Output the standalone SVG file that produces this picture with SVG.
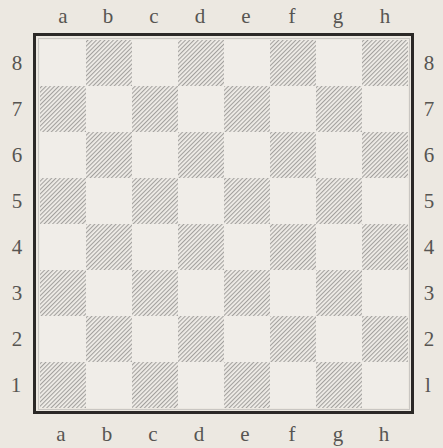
<svg xmlns="http://www.w3.org/2000/svg" width="443" height="448" viewBox="0 0 443 448">
<defs>
<pattern id="hatch" patternUnits="userSpaceOnUse" width="3" height="10" patternTransform="rotate(45)">
<rect x="0" y="0" width="1.1" height="10" fill="#a3a19e"/>
</pattern>
<style>
.lbl{font-family:"Liberation Serif","DejaVu Serif",serif;font-size:21px;fill:#575552;text-anchor:middle}
.dk{fill:url(#hatch)}
</style>
</defs>
<rect width="443" height="448" fill="#ece8e1"/>
<g id="board">
<rect x="40" y="40" width="368" height="368" fill="#f0ede8"/>
<g id="dark-squares">
<rect class="dk" x="86" y="40" width="46" height="46"/><rect class="dk" x="178" y="40" width="46" height="46"/><rect class="dk" x="270" y="40" width="46" height="46"/><rect class="dk" x="362" y="40" width="46" height="46"/>
<rect class="dk" x="40" y="86" width="46" height="46"/><rect class="dk" x="132" y="86" width="46" height="46"/><rect class="dk" x="224" y="86" width="46" height="46"/><rect class="dk" x="316" y="86" width="46" height="46"/>
<rect class="dk" x="86" y="132" width="46" height="46"/><rect class="dk" x="178" y="132" width="46" height="46"/><rect class="dk" x="270" y="132" width="46" height="46"/><rect class="dk" x="362" y="132" width="46" height="46"/>
<rect class="dk" x="40" y="178" width="46" height="46"/><rect class="dk" x="132" y="178" width="46" height="46"/><rect class="dk" x="224" y="178" width="46" height="46"/><rect class="dk" x="316" y="178" width="46" height="46"/>
<rect class="dk" x="86" y="224" width="46" height="46"/><rect class="dk" x="178" y="224" width="46" height="46"/><rect class="dk" x="270" y="224" width="46" height="46"/><rect class="dk" x="362" y="224" width="46" height="46"/>
<rect class="dk" x="40" y="270" width="46" height="46"/><rect class="dk" x="132" y="270" width="46" height="46"/><rect class="dk" x="224" y="270" width="46" height="46"/><rect class="dk" x="316" y="270" width="46" height="46"/>
<rect class="dk" x="86" y="316" width="46" height="46"/><rect class="dk" x="178" y="316" width="46" height="46"/><rect class="dk" x="270" y="316" width="46" height="46"/><rect class="dk" x="362" y="316" width="46" height="46"/>
<rect class="dk" x="40" y="362" width="46" height="46"/><rect class="dk" x="132" y="362" width="46" height="46"/><rect class="dk" x="224" y="362" width="46" height="46"/><rect class="dk" x="316" y="362" width="46" height="46"/>
</g>
<rect x="38.5" y="38.5" width="371" height="371" fill="none" stroke="#c9c6c2" stroke-width="1"/>
<rect x="34.5" y="34.5" width="378" height="378" fill="none" stroke="#2b2826" stroke-width="3"/>
</g>
<g id="files-top">
<text class="lbl" x="63" y="23">a</text><text class="lbl" x="108" y="23">b</text><text class="lbl" x="154" y="23">c</text><text class="lbl" x="200" y="23">d</text><text class="lbl" x="246" y="23">e</text><text class="lbl" x="292" y="23">f</text><text class="lbl" x="338" y="23">g</text><text class="lbl" x="385" y="23">h</text>
</g>
<g id="files-bottom">
<text class="lbl" x="61" y="441">a</text><text class="lbl" x="107" y="441">b</text><text class="lbl" x="153" y="441">c</text><text class="lbl" x="199" y="441">d</text><text class="lbl" x="245" y="441">e</text><text class="lbl" x="292" y="441">f</text><text class="lbl" x="338" y="441">g</text><text class="lbl" x="384" y="441">h</text>
</g>
<g id="ranks-left">
<text class="lbl" x="17" y="70">8</text><text class="lbl" x="17" y="116">7</text><text class="lbl" x="17" y="162">6</text><text class="lbl" x="17" y="208">5</text><text class="lbl" x="17" y="254">4</text><text class="lbl" x="17" y="300">3</text><text class="lbl" x="17" y="346">2</text><text class="lbl" x="16" y="392">1</text>
</g>
<g id="ranks-right">
<text class="lbl" x="429" y="70">8</text><text class="lbl" x="429" y="116">7</text><text class="lbl" x="429" y="162">6</text><text class="lbl" x="429" y="208">5</text><text class="lbl" x="429" y="254">4</text><text class="lbl" x="429" y="300">3</text><text class="lbl" x="429" y="346">2</text><text class="lbl" x="428" y="392">l</text>
</g>
</svg>
